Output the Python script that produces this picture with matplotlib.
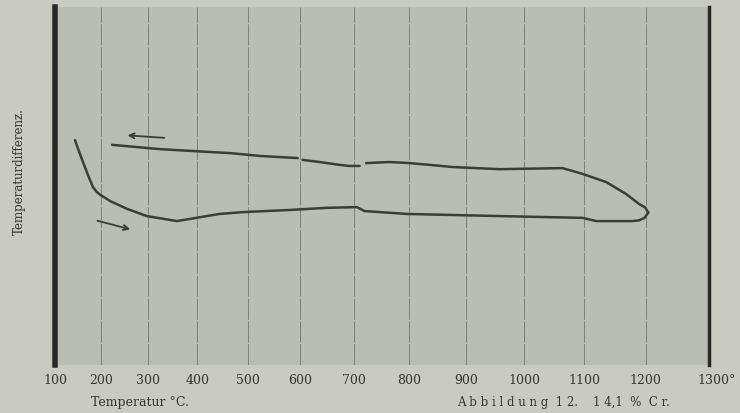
import numpy as np
import matplotlib
matplotlib.use('Agg')
import matplotlib.pyplot as plt

# Abbildung 12 - Differenzkurve 14,1 % Cr (Temperatur in Grad C, Differenz in willk. Einheiten)
# Erhitzen (untere Kurve, Pfeil nach rechts)
erhitzen_T = [144, 155, 170, 183, 191, 198, 220, 256, 297, 359, 419, 445, 490, 580, 650, 706,
              720, 796, 877, 958, 1097, 1120, 1178, 1189, 1198, 1204]
erhitzen_d = [62.8, 58.9, 53.8, 49.7, 48.4, 47.6, 45.8, 43.6, 41.6, 40.2, 41.6, 42.2, 42.7, 43.3, 43.9, 44.1,
              43.0, 42.2, 41.9, 41.6, 41.1, 40.2, 40.2, 40.4, 41.1, 42.6]
# Abkuehlen (obere Kurve, Pfeil nach links), nan = Unterbrechung
abkuehlen_T = [1204, 1199, 1189, 1168, 1136, 1097, 1064, 958, 877, 837, 801, 765, 723,
               np.nan, 711, 692, 674, 637, 605,
               np.nan, 596, 523, 465, 425, 324, 224]
abkuehlen_d = [42.6, 44.0, 45.0, 47.8, 51.1, 53.4, 55.0, 54.7, 55.3, 55.9, 56.4, 56.7, 56.4,
               np.nan, 55.6, 55.6, 55.9, 56.7, 57.3,
               np.nan, 57.8, 58.4, 59.2, 59.5, 60.3, 61.5]

temp_ticks = [100, 200, 300, 400, 500, 600, 700, 800, 900, 1000, 1100, 1200]
gitter_T = [200, 300, 400, 500, 600, 700, 800, 900, 1000, 1100, 1200]

# Pfeile (Anfang, Ende)
pfeil_ab = ((339, 63.4), (251, 64.2))
pfeil_auf = ((187, 40.5), (268, 37.7))

papier = '#c9cbc0'
feld = '#babdb2'
tinte = '#3c3d37'


# die Vorlage ist leicht verzerrt (Abstaende werden nach rechts groesser)
def vorwaerts(t):
    u = (np.asarray(t, dtype=float) - 100) / 100
    return 45.1 * u + 0.79 * u ** 2


def rueckwaerts(v):
    v = np.asarray(v, dtype=float)
    return 100 + 100 * (-45.1 + np.sqrt(np.maximum(45.1 ** 2 + 3.16 * v, 0))) / 1.58


fig = plt.figure(figsize=(7.4, 4.14), dpi=100, facecolor=papier)
ax = fig.add_axes([55 / 740, 48 / 414, 654 / 740, 358 / 414])
ax.set_facecolor(feld)
ax.set_xscale('function', functions=(vorwaerts, rueckwaerts))
ax.set_xlim(100, 1300)
ax.set_ylim(0, 100)

for t in gitter_T:
    ax.axvline(t, color='#7f8179', lw=0.7, ls=(0, (22, 1.5)), zorder=1)

ax.plot(erhitzen_T, erhitzen_d, color=tinte, lw=1.8, solid_capstyle='round',
        solid_joinstyle='round', zorder=3)
ax.plot(abkuehlen_T, abkuehlen_d, color=tinte, lw=1.8, solid_capstyle='round',
        solid_joinstyle='round', zorder=3)

for a, b in (pfeil_ab, pfeil_auf):
    ax.annotate('', xy=b, xytext=a,
                arrowprops=dict(arrowstyle='->', color=tinte, lw=1.3, mutation_scale=9))

for s in ['top', 'bottom']:
    ax.spines[s].set_visible(False)
ax.spines['left'].set_linewidth(4)
ax.spines['left'].set_color('#2a2a26')
ax.spines['right'].set_linewidth(2.5)
ax.spines['right'].set_color('#2a2a26')

ax.set_yticks([])
ax.set_xticks(temp_ticks)
ax.set_xticks([], minor=True)
ax.set_xticklabels([str(t) for t in temp_ticks], family='DejaVu Serif', fontsize=9,
                   color='#34352f')
ax.tick_params(axis='x', length=0, pad=6)

ax.annotate('1300°', xy=(1300, 0), xycoords=('data', 'axes fraction'),
            xytext=(-8, -6), textcoords='offset points', ha='left', va='top',
            family='DejaVu Serif', fontsize=9, color='#34352f')

fig.text(140 / 740, 1 - 403 / 414, 'Temperatur °C.', ha='center', va='center',
         family='DejaVu Serif', fontsize=9, color='#34352f')
fig.text(563 / 740, 1 - 403 / 414, 'A b b i l d u n g  1 2.    1 4,1  %  C r.',
         ha='center', va='center', family='DejaVu Serif', fontsize=8.5, color='#34352f')
fig.text(19 / 740, 1 - 172 / 414, 'Temperaturdifferenz.', rotation=90, ha='center',
         va='center', family='DejaVu Serif', fontsize=8.5, color='#34352f')

fig.savefig('out.png', dpi=100, facecolor=papier)
